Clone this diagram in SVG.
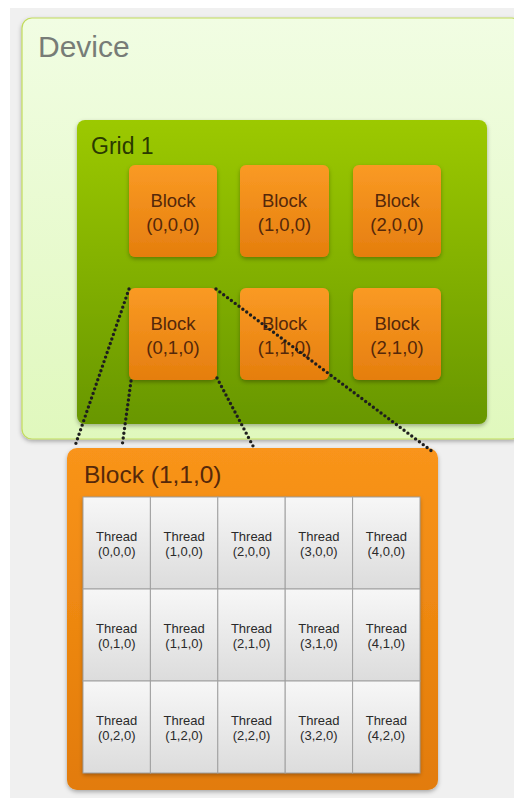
<svg xmlns="http://www.w3.org/2000/svg" width="514" height="798" viewBox="0 0 514 798">
<defs>
<linearGradient id="gDev" x1="0" y1="0" x2="0" y2="1"><stop offset="0" stop-color="#f1fde3"/><stop offset="1" stop-color="#e0f8bd"/></linearGradient>
<linearGradient id="gGrid" x1="0" y1="0" x2="0" y2="1"><stop offset="0" stop-color="#9cc901"/><stop offset="1" stop-color="#689701"/></linearGradient>
<linearGradient id="gBlk" x1="0" y1="0" x2="0" y2="1"><stop offset="0" stop-color="#fa9a24"/><stop offset="1" stop-color="#e57e0e"/></linearGradient>
<linearGradient id="gBig" x1="0" y1="0" x2="0" y2="1"><stop offset="0" stop-color="#f9941a"/><stop offset="1" stop-color="#e27b08"/></linearGradient>
<linearGradient id="gCell" x1="0" y1="0" x2="0" y2="1"><stop offset="0" stop-color="#f7f7f7"/><stop offset="1" stop-color="#dcdcdc"/></linearGradient>
<filter id="sh" x="-10%" y="-10%" width="120%" height="125%"><feDropShadow dx="0" dy="2" stdDeviation="2" flood-color="#000" flood-opacity="0.3"/></filter>
</defs>
<style>
.lbl{font-family:"Liberation Sans",Arial,sans-serif}
.blk{fill:url(#gBlk);filter:url(#sh)}
.bt{font-family:"Liberation Sans",Arial,sans-serif;font-size:18.5px;fill:#55280a;text-anchor:middle}
.cell{fill:url(#gCell);stroke:#a0a0a0;stroke-width:1}
.tt{font-family:"Liberation Sans",Arial,sans-serif;font-size:13px;fill:#2a2a2a;text-anchor:middle}
.dot{stroke:#1e1e1e;stroke-width:3.4;stroke-linecap:round;stroke-dasharray:0 4.8;fill:none}
</style>
<rect x="10" y="8" width="504" height="790" fill="#f0f0f0"/>
<g id="device">
<rect x="22" y="18" width="500" height="421" rx="10" fill="url(#gDev)" stroke="#c2dc5c" stroke-width="1.2" filter="url(#sh)"/>
<text class="lbl" x="38" y="57" font-size="30" fill="#777c77">Device</text>
</g>
<g id="grid1">
<rect x="77" y="120" width="410" height="304" rx="8" fill="url(#gGrid)" filter="url(#sh)"/>
<text class="lbl" x="91" y="154" font-size="23" fill="#2a3a00">Grid 1</text>
</g>
<g id="block000"><rect class="blk" x="129" y="165" width="88" height="92" rx="6"/><text class="bt" x="173" y="207">Block</text><text class="bt" x="173" y="231">(0,0,0)</text></g>
<g id="block100"><rect class="blk" x="240" y="165" width="89" height="92" rx="6"/><text class="bt" x="284.5" y="207">Block</text><text class="bt" x="284.5" y="231">(1,0,0)</text></g>
<g id="block200"><rect class="blk" x="353" y="165" width="88" height="92" rx="6"/><text class="bt" x="397" y="207">Block</text><text class="bt" x="397" y="231">(2,0,0)</text></g>
<g id="block010"><rect class="blk" x="129" y="288" width="88" height="92" rx="6"/><text class="bt" x="173" y="330">Block</text><text class="bt" x="173" y="354">(0,1,0)</text></g>
<g id="block110"><rect class="blk" x="240" y="288" width="89" height="92" rx="6"/><text class="bt" x="284.5" y="330">Block</text><text class="bt" x="284.5" y="354">(1,1,0)</text></g>
<g id="block210"><rect class="blk" x="353" y="288" width="88" height="92" rx="6"/><text class="bt" x="397" y="330">Block</text><text class="bt" x="397" y="354">(2,1,0)</text></g>
<g id="bigblock">
<rect x="67" y="448" width="371" height="342" rx="10" fill="url(#gBig)" filter="url(#sh)"/>
<text class="lbl" x="84" y="483" font-size="24.5" fill="#55280a">Block (1,1,0)</text>
<g filter="url(#sh)">
<rect x="83" y="497" width="337" height="276" fill="#ddd"/>
</g>
</g>
<g id="threads">
<g><rect class="cell" x="83" y="497" width="67.4" height="92"/><text class="tt" x="116.7" y="540.5">Thread</text><text class="tt" x="116.7" y="556">(0,0,0)</text></g>
<g><rect class="cell" x="150.4" y="497" width="67.4" height="92"/><text class="tt" x="184.1" y="540.5">Thread</text><text class="tt" x="184.1" y="556">(1,0,0)</text></g>
<g><rect class="cell" x="217.8" y="497" width="67.4" height="92"/><text class="tt" x="251.5" y="540.5">Thread</text><text class="tt" x="251.5" y="556">(2,0,0)</text></g>
<g><rect class="cell" x="285.2" y="497" width="67.4" height="92"/><text class="tt" x="318.9" y="540.5">Thread</text><text class="tt" x="318.9" y="556">(3,0,0)</text></g>
<g><rect class="cell" x="352.6" y="497" width="67.4" height="92"/><text class="tt" x="386.3" y="540.5">Thread</text><text class="tt" x="386.3" y="556">(4,0,0)</text></g>
<g><rect class="cell" x="83" y="589" width="67.4" height="92"/><text class="tt" x="116.7" y="632.5">Thread</text><text class="tt" x="116.7" y="648">(0,1,0)</text></g>
<g><rect class="cell" x="150.4" y="589" width="67.4" height="92"/><text class="tt" x="184.1" y="632.5">Thread</text><text class="tt" x="184.1" y="648">(1,1,0)</text></g>
<g><rect class="cell" x="217.8" y="589" width="67.4" height="92"/><text class="tt" x="251.5" y="632.5">Thread</text><text class="tt" x="251.5" y="648">(2,1,0)</text></g>
<g><rect class="cell" x="285.2" y="589" width="67.4" height="92"/><text class="tt" x="318.9" y="632.5">Thread</text><text class="tt" x="318.9" y="648">(3,1,0)</text></g>
<g><rect class="cell" x="352.6" y="589" width="67.4" height="92"/><text class="tt" x="386.3" y="632.5">Thread</text><text class="tt" x="386.3" y="648">(4,1,0)</text></g>
<g><rect class="cell" x="83" y="681" width="67.4" height="92"/><text class="tt" x="116.7" y="724.5">Thread</text><text class="tt" x="116.7" y="740">(0,2,0)</text></g>
<g><rect class="cell" x="150.4" y="681" width="67.4" height="92"/><text class="tt" x="184.1" y="724.5">Thread</text><text class="tt" x="184.1" y="740">(1,2,0)</text></g>
<g><rect class="cell" x="217.8" y="681" width="67.4" height="92"/><text class="tt" x="251.5" y="724.5">Thread</text><text class="tt" x="251.5" y="740">(2,2,0)</text></g>
<g><rect class="cell" x="285.2" y="681" width="67.4" height="92"/><text class="tt" x="318.9" y="724.5">Thread</text><text class="tt" x="318.9" y="740">(3,2,0)</text></g>
<g><rect class="cell" x="352.6" y="681" width="67.4" height="92"/><text class="tt" x="386.3" y="724.5">Thread</text><text class="tt" x="386.3" y="740">(4,2,0)</text></g>
</g>
<g id="connectors">
<line class="dot" x1="129" y1="289" x2="75" y2="446"/>
<line class="dot" x1="131" y1="381" x2="122" y2="447"/>
<line class="dot" x1="217" y1="378" x2="253" y2="446"/>
<line class="dot" x1="216" y1="289" x2="433" y2="452"/>
</g>
</svg>
